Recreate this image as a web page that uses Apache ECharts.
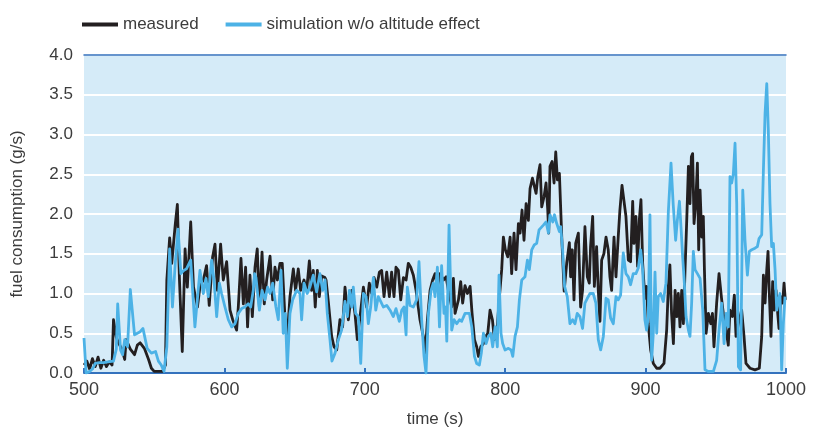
<!DOCTYPE html>
<html>
<head>
<meta charset="utf-8">
<title>fuel consumption</title>
<script src="https://cdn.jsdelivr.net/npm/echarts@6/dist/echarts.min.js"></script>
<style>
  html, body { margin: 0; padding: 0; background: #fff; }
  #box1 { width: 824px; height: 430px; }
</style>
</head>
<body>
<div id="box1"></div>
<script>
// measured fuel consumption, time (s) / value (g/s)
var measuredTime = [
  500, 502, 504, 506, 508, 510, 512, 514, 516, 518, 520, 521, 523, 524.5, 527, 529, 530, 533, 536, 538,
  540, 543, 546, 548, 550, 553, 556, 558, 559, 561, 562.5, 565, 566.5, 568, 570, 572, 573.6, 576, 578, 580.8,
  582.7, 585, 587.3, 589.2, 591.6, 593.3, 595, 597.3, 599.2, 601.6, 604, 605.9, 608.7, 609.9, 611.8, 613.5, 615.1, 616.5, 618.2, 619.9,
  621.8, 623.4, 624.9, 626.8, 628.4, 630.1, 632.5, 634.4, 636, 637.7, 639.6, 641.2, 643.1, 644.8, 646.7, 649.1, 650.7, 652.6, 654.3, 656.7,
  658.6, 660.5, 662.1, 663.3, 664.7, 666.2, 667.6, 669.3, 671.6, 672.4, 674, 676.4, 678.1, 680, 682.3, 684.2, 685.9, 688.3, 690.7, 693,
  694.7, 696.6, 699, 701.3, 703.2, 704.9, 706.6, 708.5, 710.4, 712, 713.7, 715.6, 717.5, 719.1, 720.8, 722.2, 723.9, 725.6, 727.5, 729.4,
  731, 732.7, 734.6, 736.5, 739.3, 741.7, 743.1, 744.6, 746.5, 748.3, 750, 751.7, 753.6, 756, 757.9, 759.5, 761.9, 763.1, 764.3, 766.7,
  768.3, 769.7, 771.4, 773.1, 775, 776.4, 778.1, 779.7, 780.9, 782.6, 784.5, 786.1, 787.6, 789.2, 790.9, 792.3, 794, 795.9, 797.5, 798.7,
  800.1, 801.8, 803.5, 804.6, 806.3, 807.7, 809.4, 810.6, 812, 813.4, 814.9, 816.5, 817.7, 819.4, 820.8, 822, 823.2, 824.8, 826, 827.7,
  829.1, 830.3, 831, 831.9, 833.4, 834.8, 836, 837.2, 838.6, 840.3, 842, 843.8, 845.7, 846.6, 847.8, 849, 850.2, 852.1, 853.7, 855.1,
  856.8, 858.5, 859.9, 860.8, 862.3, 863.5, 865.1, 866.3, 867.5, 868.7, 870.3, 871.8, 873.4, 874.6, 875.8, 877.5, 878.9, 880.5, 881.7, 883.2,
  884.6, 886, 887.7, 889.3, 890.8, 891.7, 893.1, 894.3, 895.5, 896.7, 897.9, 898.8, 899.8, 900.7, 901.9, 903.6, 905.5, 907.9, 910.2, 913.1,
  915, 916.2, 917.3, 918.5, 919.8, 921, 922.2, 923.3, 924.5, 925.7, 926.9, 928.1, 929.3, 930.5, 931.6, 932.6, 933.5, 934.5, 935.7, 936.9,
  937.8, 938.8, 940, 941.1, 941.9, 943.1, 944.7, 946.4, 947.6, 948.7, 950.6, 952.3, 954.2, 955.9, 957.3, 958.9, 960.1, 961.8, 963.2, 964.4,
  966.1, 968.4, 970.1, 971.5, 974.4, 977.9, 981, 982.7, 983.9, 985.1, 986.3, 987.2, 988.2, 989.3, 990.5, 991.7, 992.9, 994.1, 995, 996.2,
  997.6, 998.6, 999.5
];
var measuredFuel = [
  0.10, 0.15, 0.05, 0.18, 0.08, 0.20, 0.06, 0.16, 0.08, 0.14, 0.10, 0.67, 0.45, 0.38, 0.30, 0.17, 0.42, 0.30, 0.23, 0.35,
  0.38, 0.31, 0.17, 0.06, 0.02, 0.02, 0.02, 0.10, 1.17, 1.70, 1.38, 1.87, 2.12, 1.17, 0.27, 1.56, 1.08, 1.90, 1.08, 0.83,
  1.10, 1.17, 1.35, 0.85, 1.46, 1.62, 1.04, 1.62, 1.17, 1.40, 0.79, 0.67, 0.54, 0.83, 1.44, 0.87, 1.33, 0.58, 1.23, 0.71,
  1.33, 1.56, 0.83, 1.52, 0.87, 1.17, 1.47, 0.92, 1.33, 1.17, 1.38, 1.38, 0.71, 0.46, 0.96, 1.31, 1.04, 1.31, 1.04, 1.17,
  1.04, 1.41, 1.04, 1.29, 0.83, 1.29, 0.96, 1.22, 1.20, 1.17, 0.90, 0.46, 0.33, 0.29, 0.67, 0.58, 1.08, 0.67, 1.04, 0.75,
  0.42, 0.71, 1.08, 0.83, 1.13, 1.00, 1.20, 1.08, 1.27, 1.29, 0.96, 1.27, 0.96, 1.27, 0.96, 1.33, 1.29, 0.92, 1.20, 1.17,
  1.38, 1.33, 1.23, 1.04, 0.67, 0.46, 0.25, 0.67, 1.04, 1.17, 1.25, 1.08, 1.25, 1.17, 1.21, 1.04, 0.83, 1.19, 0.75, 0.92,
  1.15, 0.88, 1.10, 1.00, 1.09, 0.75, 0.42, 0.33, 0.21, 0.33, 0.37, 0.46, 0.50, 0.79, 0.67, 0.42, 0.50, 0.96, 1.30, 1.71,
  1.55, 1.46, 1.71, 1.25, 1.76, 1.30, 1.88, 1.76, 2.05, 1.67, 2.13, 1.92, 2.32, 2.45, 2.43, 2.26, 2.47, 2.62, 2.09, 2.22,
  2.39, 2.05, 1.76, 2.60, 2.66, 2.39, 2.78, 2.43, 2.51, 1.70, 1.03, 1.38, 1.64, 1.21, 1.55, 0.92, 1.63, 1.76, 0.83, 1.04,
  1.84, 1.21, 1.13, 1.59, 1.97, 1.09, 1.59, 1.04, 0.65, 1.42, 1.50, 1.71, 1.55, 1.21, 1.04, 1.71, 1.21, 1.71, 2.05, 2.36,
  2.36, 1.97, 1.42, 1.40, 2.16, 1.63, 1.97, 1.34, 1.92, 2.18, 1.38, 1.13, 0.94, 1.09, 0.62, 0.29, 0.12, 0.06, 0.06, 0.12,
  0.54, 1.09, 1.36, 0.75, 0.37, 1.04, 0.71, 1.00, 0.58, 1.04, 0.62, 1.30, 1.92, 2.60, 2.13, 2.72, 2.76, 1.88, 2.13, 2.64,
  1.55, 2.30, 1.71, 1.97, 1.30, 0.50, 0.75, 0.62, 0.75, 0.33, 0.88, 1.25, 0.92, 0.67, 0.54, 0.35, 0.79, 0.71, 0.98, 0.46,
  0.62, 0.79, 0.46, 0.12, 0.06, 0.04, 0.06, 0.46, 1.23, 0.88, 1.30, 1.53, 0.96, 0.46, 1.15, 0.79, 1.04, 0.75, 0.56, 0.96,
  0.88, 1.13, 0.92
];

// simulation without altitude effect
var simTime = [
  500, 501.5, 504, 506, 508, 511, 514, 517, 521, 523, 524, 526, 527.5, 529, 531, 533, 536, 540, 542, 545,
  548, 551, 553, 555, 557, 559, 561, 563, 565, 567, 569, 571, 573, 576, 579, 582.6, 585, 586.9, 588.5, 590.9,
  592.6, 594.5, 596.4, 598, 600.4, 602.8, 605.2, 607.5, 609.9, 612.3, 614.6, 617, 618.7, 620.6, 621.5, 622.5, 624.9, 626.8, 628.9, 630.8,
  632.5, 634.4, 636.7, 638.4, 640.3, 641.9, 643.4, 644.8, 646.7, 648.6, 651.5, 653.8, 655, 656.7, 659, 660.9, 663.3, 665.7, 668, 670,
  671.7, 673.3, 675.2, 676.6, 678.8, 681.2, 683.5, 685.9, 687.6, 689, 690.7, 691.8, 693.5, 695.4, 697.1, 699, 700.9, 702.5, 704.2, 706.1,
  707.8, 709.6, 711.3, 713.2, 715.6, 718, 720.3, 722.2, 724.6, 726.3, 727.9, 729.4, 730.3, 732.2, 734.6, 736.9, 738.6, 740.5, 742.2, 743.6,
  745.3, 747.2, 748.8, 750, 751.7, 753.2, 754.7, 756.4, 757.5, 758.4, 760, 761.9, 763.6, 765.5, 767.4, 769, 771.4, 774.5, 776.2, 778.1,
  779.7, 781.6, 783, 784.5, 786.4, 788, 789.7, 791.1, 792.8, 794.4, 795.6, 797, 798.2, 799.9, 802.3, 804.2, 805.4, 807, 808.7, 810.1,
  811.8, 814.1, 815.8, 817.2, 818.9, 820.6, 822.4, 824.1, 825.5, 827.2, 829.1, 830.8, 831.9, 833.9, 835.1, 836.7, 838.6, 839.5, 840.9, 842.3,
  844.2, 846.1, 848, 849.7, 851.3, 853.2, 855.1, 856.8, 858.5, 860.4, 862.7, 864.6, 866.3, 868, 869.9, 871.8, 873.4, 875.1, 877, 878.9,
  880.5, 882.2, 884.1, 886, 887.7, 889.3, 891.2, 893.1, 894.8, 896.5, 897.9, 899.5, 900.7, 901.9, 903.1, 904.3, 905.5, 906.7, 907.9, 909,
  910.7, 912.6, 914.5, 916.2, 918.1, 919.7, 921.4, 922.6, 924.1, 925.2, 926.4, 927.6, 928.8, 930.5, 931.6, 932.8, 934, 935.2, 936.9, 938.8,
  940.7, 942.3, 944.7, 948.3, 950.6, 952.5, 954.2, 955.9, 957.3, 958.9, 960.1, 961.3, 962.5, 963.7, 964.9, 966.1, 967.7, 969.2, 970.8, 972.5,
  973.9, 975.6, 977.9, 979.6, 980.8, 982.7, 983.9, 985.1, 986.3, 987.4, 988.6, 989.8, 991, 992.2, 993.4, 994.6, 995.7, 996.9, 998.1, 999.3
];
var simFuel = [
  0.44, 0.00, 0.02, 0.05, 0.12, 0.13, 0.13, 0.14, 0.15, 0.30, 0.87, 0.29, 0.23, 0.42, 0.33, 1.05, 0.48, 0.52, 0.56, 0.31,
  0.25, 0.27, 0.15, 0.10, 0.02, 0.33, 1.56, 0.83, 1.38, 1.81, 1.25, 1.29, 1.31, 1.42, 0.58, 1.29, 1.00, 1.19, 0.96, 1.42,
  1.17, 0.71, 1.13, 1.00, 0.83, 0.67, 0.58, 0.62, 0.75, 0.81, 0.83, 0.87, 0.83, 1.04, 1.25, 1.20, 0.79, 1.04, 0.92, 1.08,
  1.00, 1.13, 0.83, 0.67, 1.29, 0.50, 0.75, 0.06, 0.75, 0.92, 1.04, 1.00, 0.67, 1.13, 1.00, 1.08, 1.23, 1.02, 1.25, 1.04,
  1.17, 0.75, 0.42, 0.15, 0.25, 0.42, 0.54, 0.90, 0.71, 1.04, 0.83, 1.08, 0.75, 0.71, 0.12, 1.00, 0.96, 0.62, 0.83, 1.20,
  0.79, 0.96, 0.90, 0.83, 0.85, 0.79, 0.71, 0.81, 0.65, 0.79, 0.83, 0.48, 1.08, 0.85, 0.83, 0.92, 1.40, 0.67, 0.21, 0.00,
  0.75, 1.04, 1.13, 0.96, 1.33, 0.58, 1.35, 0.75, 0.83, 0.40, 1.86, 0.54, 0.67, 0.62, 0.67, 0.65, 0.75, 0.75, 0.58, 0.21,
  0.12, 0.10, 0.25, 0.50, 0.37, 0.46, 0.50, 0.33, 0.58, 0.33, 1.23, 0.50, 0.37, 0.29, 0.31, 0.29, 0.21, 0.46, 0.58, 0.92,
  1.17, 1.21, 1.42, 1.30, 1.55, 1.61, 1.63, 1.80, 1.80, 1.86, 1.90, 1.76, 1.99, 1.90, 1.99, 1.88, 1.78, 1.84, 1.55, 1.09,
  0.96, 0.62, 0.67, 0.62, 0.75, 0.71, 0.56, 0.88, 0.94, 1.00, 1.00, 0.88, 0.42, 0.29, 0.46, 0.94, 0.92, 0.69, 0.62, 0.96,
  0.92, 0.98, 1.51, 1.25, 1.21, 1.11, 1.25, 1.25, 1.32, 1.55, 1.30, 0.67, 0.54, 0.71, 1.99, 0.16, 0.50, 1.27, 0.50, 0.96,
  1.00, 0.90, 1.13, 2.03, 2.64, 2.11, 1.67, 1.92, 2.16, 1.84, 1.46, 1.13, 0.71, 0.54, 0.46, 0.88, 1.53, 1.30, 1.25, 1.19,
  0.79, 0.04, 0.02, 0.02, 0.16, 0.58, 0.88, 0.37, 0.75, 0.58, 2.47, 2.39, 2.51, 2.89, 2.13, 0.08, 0.04, 2.30, 1.67, 1.23,
  1.53, 1.55, 1.57, 1.59, 1.69, 1.74, 2.55, 3.27, 3.64, 3.06, 2.13, 1.59, 1.63, 1.30, 0.79, 0.92, 1.00, 0.04, 0.62, 0.96
];

var xTicks = [500, 600, 700, 800, 900, 1000];
var yTicks = [0, 0.5, 1.0, 1.5, 2.0, 2.5, 3.0, 3.5, 4.0];

function pairs(t, v) {
  var out = [];
  for (var i = 0; i < t.length; i++) {
    out.push([t[i], v[i]]);
  }
  return out;
}

var textColor = '#3c3c3c';
var frameBlue = '#3472bd';
var font = 'Liberation Sans';

var option1 = {
  animation: false,
  textStyle: { fontFamily: font },
  legend: {
    left: 77,
    top: 11,
    icon: 'rect',
    itemWidth: 36,
    itemHeight: 4,
    itemGap: 27,
    textStyle: { fontSize: 17, color: textColor, fontFamily: font },
    data: ['measured', 'simulation w/o altitude effect']
  },
  grid: {
    left: 84,
    right: 38,
    top: 55,
    bottom: 57,
    outerBoundsMode: 'none', // keep the plot box where it is
    show: true,
    backgroundColor: '#d5ebf8',
    borderWidth: 0
  },
  xAxis: [
    {
      type: 'value',
      min: xTicks[0],
      max: xTicks[xTicks.length - 1],
      interval: 100,
      name: 'time (s)',
      nameLocation: 'middle',
      nameGap: 38,
      nameTextStyle: { fontSize: 17, color: textColor },
      axisLine: { show: true, lineStyle: { color: frameBlue, width: 2 } },
      axisTick: { show: true, inside: true, length: 5, lineStyle: { color: frameBlue, width: 2 } },
      axisLabel: {
        fontSize: 18,
        color: textColor,
        margin: 8,
        formatter: function (v) { return String(v); }
      },
      splitLine: { show: false }
    },
    {
      // top frame line at 4.0
      type: 'value',
      position: 'top',
      min: xTicks[0],
      max: xTicks[xTicks.length - 1],
      axisLine: { show: true, lineStyle: { color: frameBlue, width: 1.5 } },
      axisTick: { show: false },
      axisLabel: { show: false },
      splitLine: { show: false }
    }
  ],
  yAxis: {
    type: 'value',
    min: yTicks[0],
    max: yTicks[yTicks.length - 1],
    interval: 0.5,
    name: 'fuel consumption (g/s)',
    nameLocation: 'middle',
    nameGap: 58,
    nameTextStyle: { fontSize: 17, color: textColor },
    axisLine: { show: false },
    axisTick: { show: false },
    axisLabel: {
      fontSize: 17,
      color: textColor,
      margin: 11,
      formatter: function (v) { return v.toFixed(1); }
    },
    splitLine: { show: true, lineStyle: { color: '#ffffff', width: 2 } }
  },
  series: [
    {
      name: 'measured',
      type: 'line',
      xAxisIndex: 0,
      showSymbol: false,
      color: '#231f20',
      lineStyle: { width: 2.8, color: '#231f20', join: 'round' },
      data: pairs(measuredTime, measuredFuel)
    },
    {
      name: 'simulation w/o altitude effect',
      type: 'line',
      xAxisIndex: 0,
      showSymbol: false,
      color: '#4cb2e6',
      lineStyle: { width: 2.8, color: '#4cb2e6', join: 'round' },
      data: pairs(simTime, simFuel)
    }
  ]
};

var myChart = echarts.init(document.getElementById('box1'));
myChart.setOption(option1);
</script>
</body>
</html>
